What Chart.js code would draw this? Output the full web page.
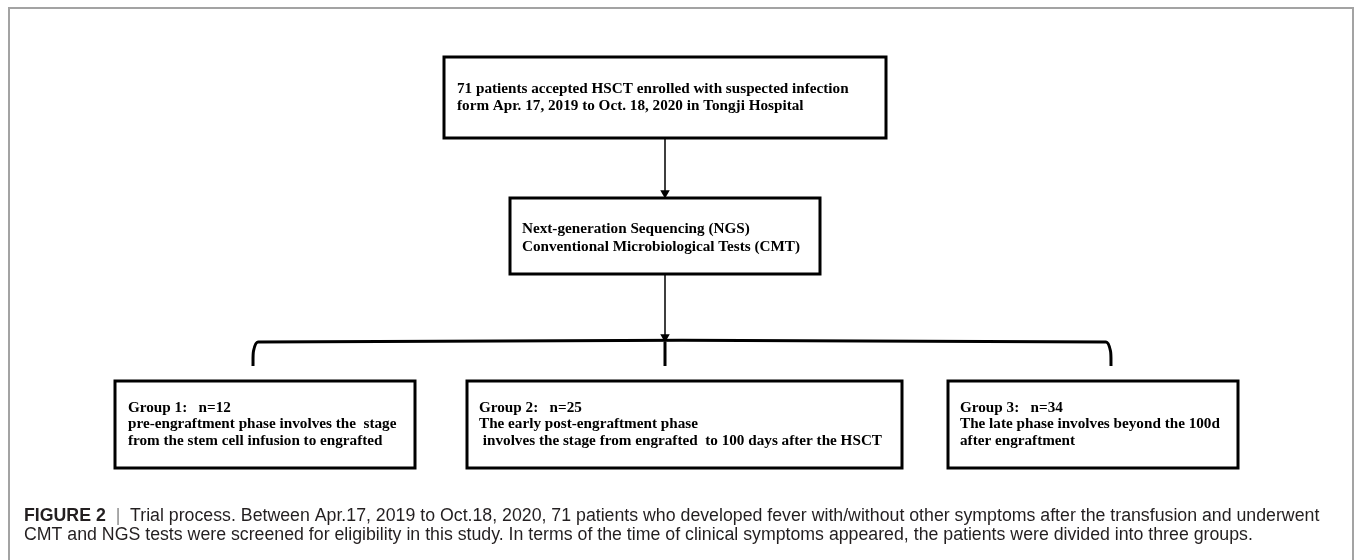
<!DOCTYPE html>
<html>
<head>
<meta charset="utf-8">
<title>Figure 2 - Trial process</title>
<script src="https://cdn.jsdelivr.net/npm/chart.js@4.4.1/dist/chart.umd.min.js"></script>
<style>
  html, body { margin: 0; padding: 0; background: #fff; }
  #wrap { width: 1355px; height: 560px; position: relative; }
</style>
</head>
<body>
<div id="wrap"><canvas id="flow"></canvas></div>
<script>
'use strict';

// ---- text content of the flow chart ----
const topBoxLines = [
  "71 patients accepted HSCT enrolled with suspected infection",
  "form Apr. 17, 2019 to Oct. 18, 2020 in Tongji Hospital"
];
const testBoxLines = [
  "Next-generation Sequencing (NGS)",
  "Conventional Microbiological Tests (CMT)"
];
const groupNames = ["Group 1:", "Group 2:", "Group 3:"];
const groupCounts = [12, 25, 34];
const groupDescriptions = [
  ["pre-engraftment phase involves the  stage", "from the stem cell infusion to engrafted"],
  ["The early post-engraftment phase", " involves the stage from engrafted  to 100 days after the HSCT"],
  ["The late phase involves beyond the 100d", "after engraftment"]
];
const captionLabel = "FIGURE 2";
const captionLines = [
  "Trial process. Between Apr.17, 2019 to Oct.18, 2020, 71 patients who developed fever with/without other symptoms after the transfusion and underwent",
  "CMT and NGS tests were screened for eligibility in this study. In terms of the time of clinical symptoms appeared, the patients were divided into three groups."
];

// ---- diagram layout (in diagram units, x 0..1355, y 0..560 top-down) ----
const layout = {
  frame: { left: 9, right: 1353, top: 8, bottom: 570 },
  topBox: { left: 444, right: 886, top: 57, bottom: 138, textX: 457, firstLine: 89, lineGap: 17 },
  testBox: { left: 510, right: 820, top: 198, bottom: 274, textX: 522, firstLine: 229, lineGap: 18 },
  groupBoxes: [
    { left: 115, right: 415, top: 381, bottom: 468, textX: 128 },
    { left: 467, right: 902, top: 381, bottom: 468, textX: 479 },
    { left: 948, right: 1238, top: 381, bottom: 468, textX: 960 }
  ],
  groupFirstLine: 408,
  groupLineGap: 16.5,
  stem: 665,
  bracket: { y: 342, left: 253, right: 1111, foot: 366 },
  caption: { x: 24, firstLine: 521, lineGap: 19, width: 1296 },
  boxFont: 15.2
};

let boxPath = (b) => [
  { x: b.left, y: b.top }, { x: b.right, y: b.top },
  { x: b.right, y: b.bottom }, { x: b.left, y: b.bottom },
  { x: b.left, y: b.top }
];

let lineSet = (points, width, color) => ({
  data: points,
  showLine: true,
  borderColor: color || '#000',
  borderWidth: width,
  borderJoinStyle: 'miter',
  borderCapStyle: 'square',
  pointRadius: 0,
  fill: false,
  clip: false
});

let datasets = [];

// outer grey frame
let f = layout.frame;
datasets.push(lineSet([
  { x: f.left, y: f.bottom }, { x: f.left, y: f.top },
  { x: f.right, y: f.top }, { x: f.right, y: f.bottom }
], 2, '#a3a3a3'));

// boxes
datasets.push(lineSet(boxPath(layout.topBox), 3));
datasets.push(lineSet(boxPath(layout.testBox), 3));
layout.groupBoxes.forEach(b => datasets.push(lineSet(boxPath(b), 3)));

// connectors
let s = layout.stem;
let br = layout.bracket;
datasets.push(Object.assign(lineSet([
  { x: s, y: layout.topBox.bottom }, { x: s, y: layout.testBox.top - 6 }
], 1.5), { borderCapStyle: 'butt' }));
datasets.push(Object.assign(lineSet([
  { x: s, y: layout.testBox.bottom }, { x: s, y: br.y - 6 }
], 1.5), { borderCapStyle: 'butt' }));

// bracket with rounded ends
let bracketSet = lineSet([
  { x: br.left, y: br.foot }, { x: br.left + 0.5, y: br.y + 9 }, { x: br.left + 5, y: br.y },
  { x: br.right - 5, y: br.y }, { x: br.right - 0.5, y: br.y + 9 }, { x: br.right, y: br.foot }
], 3);
bracketSet.tension = 0.25;
bracketSet.borderCapStyle = 'butt';
datasets.push(bracketSet);
datasets.push(Object.assign(lineSet([
  { x: s, y: br.y }, { x: s, y: br.foot }
], 3), { borderCapStyle: 'butt' }));

// arrow heads (triangle pointing down, tip at the target)
datasets.push({
  data: [{ x: s, y: layout.testBox.top - 5 }, { x: s, y: br.y - 5 }],
  showLine: false,
  pointStyle: 'triangle',
  rotation: 180,
  pointRadius: 5.5,
  pointBorderWidth: 0,
  pointBackgroundColor: '#000',
  pointBorderColor: '#000',
  clip: false
});

// ---- text plugin: places all labels through the chart scales ----
const textPlugin = {
  id: 'flowText',
  afterDatasetsDraw(chart) {
    let ctx = chart.ctx;
    let xs = chart.scales.x;
    let ys = chart.scales.y;
    let px = v => xs.getPixelForValue(v);
    let py = v => ys.getPixelForValue(v);
    ctx.save();
    ctx.fillStyle = '#000';
    ctx.textBaseline = 'middle';
    ctx.textAlign = 'left';
    ctx.font = 'bold ' + layout.boxFont + 'px "Liberation Serif", "Times New Roman", serif';

    let tb = layout.topBox;
    topBoxLines.forEach((t, i) => ctx.fillText(t, px(tb.textX), py(tb.firstLine + i * tb.lineGap)));
    let nb = layout.testBox;
    testBoxLines.forEach((t, i) => ctx.fillText(t, px(nb.textX), py(nb.firstLine + i * nb.lineGap)));

    layout.groupBoxes.forEach((b, g) => {
      let lines = [groupNames[g] + "   n=" + groupCounts[g]].concat(groupDescriptions[g]);
      lines.forEach((t, i) => ctx.fillText(t, px(b.textX), py(layout.groupFirstLine + i * layout.groupLineGap)));
    });

    // caption
    let c = layout.caption;
    let family = '"Liberation Sans", Arial, sans-serif';
    let label = captionLabel;
    let sep = "  |  ";
    let size = 15;
    let measure = sz => {
      ctx.font = 'bold ' + sz + 'px ' + family;
      let w = ctx.measureText(label).width;
      ctx.font = sz + 'px ' + family;
      return w + ctx.measureText(sep + captionLines[0]).width;
    };
    size = size * c.width / measure(size);
    let y1 = py(c.firstLine);
    ctx.textBaseline = 'alphabetic';
    ctx.font = 'bold ' + size + 'px ' + family;
    ctx.fillStyle = '#231f20';
    ctx.fillText(label, px(c.x), y1);
    let x = px(c.x) + ctx.measureText(label).width;
    ctx.font = size + 'px ' + family;
    let spW = ctx.measureText("  ").width;
    ctx.fillStyle = '#8c8c8c';
    ctx.fillText("|", x + spW, y1);
    x += spW + ctx.measureText("|").width + spW;
    ctx.fillStyle = '#231f20';
    ctx.fillText(captionLines[0], x, y1);
    ctx.fillText(captionLines[1], px(c.x), py(c.firstLine + c.lineGap));
    ctx.restore();
  }
};

new Chart(document.getElementById('flow').getContext('2d'), {
  type: 'scatter',
  data: { datasets },
  options: {
    responsive: true,
    maintainAspectRatio: false,
    animation: false,
    devicePixelRatio: 1,
    layout: { padding: 0, autoPadding: false },
    plugins: { legend: { display: false }, tooltip: { enabled: false }, title: { display: false } },
    scales: {
      x: { type: 'linear', min: 0, max: 1355, display: false },
      y: { type: 'linear', min: 0, max: 560, reverse: true, display: false }
    }
  },
  plugins: [textPlugin]
});
</script>
</body>
</html>
